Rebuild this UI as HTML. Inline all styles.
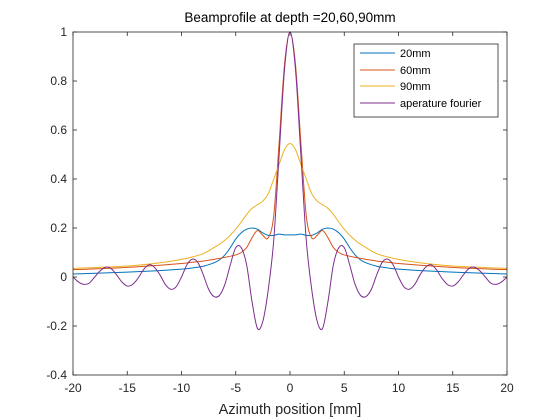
<!DOCTYPE html>
<html><head><meta charset="utf-8"><style>
body{margin:0;background:#fff;}
svg{display:block;font-family:"Liberation Sans",Arial,sans-serif;}
</style></head><body>
<svg id="chart" width="560" height="420" viewBox="0 0 560 420">
<rect width="560" height="420" fill="#fff"/>
<rect x="73" y="32" width="434" height="343" fill="#fff"/>
<g id="marks"></g>
<g id="axes"></g>
<text x="290" y="22" text-anchor="middle" font-size="13.5" fill="#000">Beamprofile at depth =20,60,90mm</text>
<text x="290" y="414" text-anchor="middle" font-size="14.5" fill="#262626">Azimuth position [mm]</text>
<g>
<rect x="354" y="44" width="144" height="73" fill="#fff" stroke="#262626" stroke-width="0.8"/>
<line x1="360" x2="395" y1="53" y2="53" stroke="#0072BD" stroke-width="1"/>
<text x="400" y="57" font-size="11" fill="#000">20mm</text>
<line x1="360" x2="395" y1="70" y2="70" stroke="#D95319" stroke-width="1"/>
<text x="400" y="74" font-size="11" fill="#000">60mm</text>
<line x1="360" x2="395" y1="86" y2="86" stroke="#EDB120" stroke-width="1"/>
<text x="400" y="90" font-size="11" fill="#000">90mm</text>
<line x1="360" x2="395" y1="103" y2="103" stroke="#7E2F8E" stroke-width="1"/>
<text x="400" y="107" font-size="11" fill="#000">aperature fourier</text>
</g>
</svg>
<script>
// right-half data (curves are symmetric about 0)
const xBlue = [0,0.5,1,1.5,2,2.5,3,3.5,4,4.5,5,5.5,6,6.5,7,8,9,10,12,15,20];
const yBlue = [0.172,0.172,0.175,0.17,0.17,0.18,0.195,0.2,0.195,0.18,0.155,0.12,0.09,0.07,0.058,0.044,0.037,0.032,0.026,0.02,0.012];
const xRed = [0,0.5,1,1.5,2,2.5,3,3.5,4,4.5,5,6,7,8,9,10,12,14,16,18,20];
const yRed = [1,0.87,0.55,0.25,0.16,0.17,0.19,0.16,0.12,0.1,0.09,0.08,0.072,0.065,0.06,0.055,0.048,0.042,0.037,0.033,0.03];
const xYellow = [0,0.5,1,1.5,2,2.5,3,3.5,4,5,6,7,8,9,10,12,15,20];
const yYellow = [0.545,0.52,0.46,0.4,0.34,0.31,0.295,0.28,0.255,0.195,0.15,0.12,0.095,0.082,0.072,0.058,0.045,0.035];
const xPurple = [0,0.5,1,1.5,2,2.5,3,3.5,4,4.5,5,5.5,6,6.5,7,7.5,8,8.5,9,9.5,10,10.5,11,11.5,12,12.5,13,13.5,14,14.5,15,15.5,16,16.5,17,17.5,18,18.5,19,19.5,20];
const yPurple = [1,0.85,0.5,0.15,-0.05,-0.18,-0.21,-0.1,0.05,0.12,0.12,0.05,-0.03,-0.075,-0.08,-0.05,0.01,0.06,0.073,0.05,0,-0.04,-0.05,-0.03,0.01,0.04,0.05,0.03,-0.005,-0.03,-0.037,-0.02,0.01,0.035,0.04,0.025,0,-0.025,-0.03,-0.02,0];
const xTicks = [-20,-15,-10,-5,0,5,10,15,20];
const yTicks = [-0.4,-0.2,0,0.2,0.4,0.6,0.8,1];
const yTickLabels = ["-0.4","-0.2","0","0.2","0.4","0.6","0.8","1"];

const L=73,R=507,T=32,B=375;
const xMin=-20,xMax=20,yMin=-0.4,yMax=1;
const sx=v=>L+(v-xMin)/(xMax-xMin)*(R-L);
const sy=v=>B-(v-yMin)/(yMax-yMin)*(B-T);
const NS="http://www.w3.org/2000/svg";
const marks=document.getElementById('marks');
const axes=document.getElementById('axes');

function full(xs,ys){
  const pts=[];
  for(let i=xs.length-1;i>0;i--) pts.push([-xs[i],ys[i]]);
  for(let i=0;i<xs.length;i++) pts.push([xs[i],ys[i]]);
  return pts;
}
function catmull(pts){
  const p=pts.map(([x,y])=>[sx(x),sy(y)]);
  let d='M'+p[0][0].toFixed(2)+','+p[0][1].toFixed(2);
  for(let i=0;i<p.length-1;i++){
    const p0=p[i-1]||p[i],p1=p[i],p2=p[i+1],p3=p[i+2]||p2;
    const c1=[p1[0]+(p2[0]-p0[0])/6,p1[1]+(p2[1]-p0[1])/6];
    const c2=[p2[0]-(p3[0]-p1[0])/6,p2[1]-(p3[1]-p1[1])/6];
    d+='C'+c1[0].toFixed(2)+','+c1[1].toFixed(2)+' '+c2[0].toFixed(2)+','+c2[1].toFixed(2)+' '+p2[0].toFixed(2)+','+p2[1].toFixed(2);
  }
  return d;
}
function series(xs,ys,color,name){
  const path=document.createElementNS(NS,'path');
  path.setAttribute('d',catmull(full(xs,ys)));
  path.setAttribute('fill','none');
  path.setAttribute('stroke',color);
  path.setAttribute('stroke-width','1');
  
  
  marks.appendChild(path);
}
series(xBlue,yBlue,'#0072BD','line-20mm');
series(xRed,yRed,'#D95319','line-60mm');
series(xYellow,yYellow,'#EDB120','line-90mm');
series(xPurple,yPurple,'#7E2F8E','line-aperture-fourier');

function el(tag,attrs){const e=document.createElementNS(NS,tag);for(const k in attrs)e.setAttribute(k,attrs[k]);axes.appendChild(e);return e;}
const box=el('rect',{x:L,y:T,width:R-L,height:B-T,fill:'none',stroke:'#262626','stroke-width':'0.8'});


xTicks.forEach(t=>{
  const x=sx(t);
  el('line',{x1:x,x2:x,y1:B,y2:B-4,stroke:'#262626','stroke-width':'0.8'});
  el('line',{x1:x,x2:x,y1:T,y2:T+4,stroke:'#262626','stroke-width':'0.8'});
  const tx=el('text',{x:x,y:B+17,'text-anchor':'middle','font-size':'12',fill:'#262626'});
  tx.textContent=String(t);
  
  
});
yTicks.forEach((t,i)=>{
  const y=sy(t);
  el('line',{x1:L,x2:L+4,y1:y,y2:y,stroke:'#262626','stroke-width':'0.8'});
  el('line',{x1:R,x2:R-4,y1:y,y2:y,stroke:'#262626','stroke-width':'0.8'});
  const tx=el('text',{x:L-6,y:y+4,'text-anchor':'end','font-size':'12',fill:'#262626'});
  tx.textContent=yTickLabels[i];
  
  
});
</script>
</body></html>
